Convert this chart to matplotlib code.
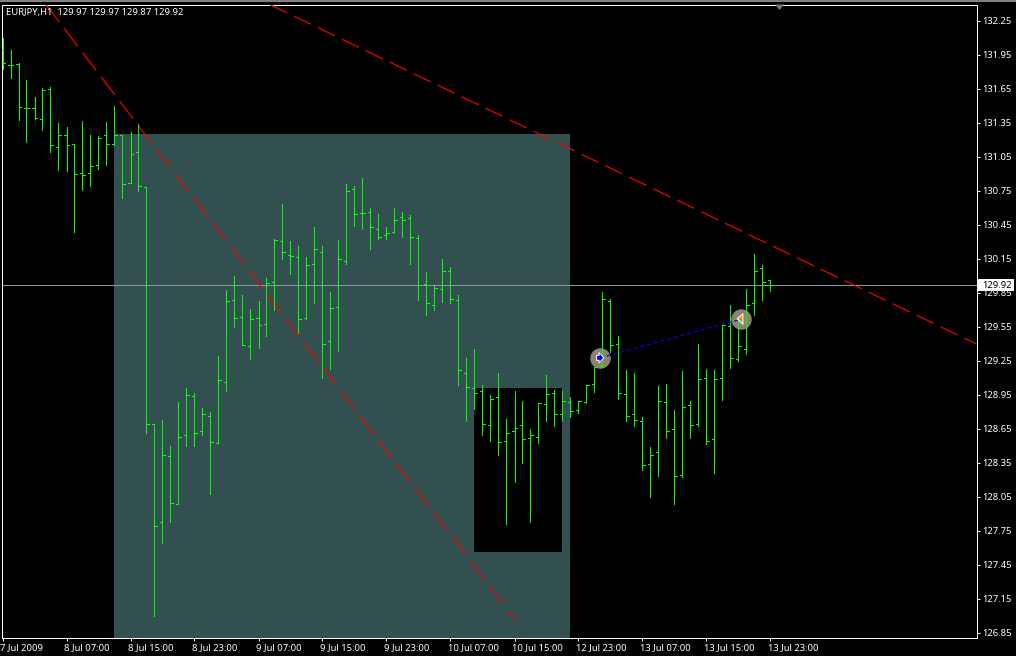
import matplotlib
matplotlib.use("Agg")
import matplotlib.pyplot as plt
from matplotlib.patches import Rectangle, Polygon
from matplotlib.transforms import ScaledTranslation

opens = [132.00,131.86,131.87,131.48,131.48,131.39,131.65,131.14,131.25,131.17,
         130.91,130.91,130.98,131.25,131.17,131.25,130.82,131.10,130.79,128.70,
         127.83,128.41,127.99,128.60,128.94,128.63,128.77,128.53,129.07,129.79,
         129.64,129.38,129.63,129.58,129.95,130.31,130.19,130.17,129.63,130.11,
         130.21,129.43,129.73,130.13,130.77,130.56,130.57,130.42,130.36,130.39,
         130.52,130.51,130.34,129.93,129.75,129.89,130.05,129.79,129.15,129.01,
         128.99,128.69,128.93,128.55,128.63,128.69,128.57,128.58,128.87,128.97,
         128.78,128.89,128.82,128.89,129.05,129.21,129.78,129.40,128.96,128.78,
         128.72,128.34,128.45,128.89,128.65,128.25,128.86,128.70,129.10,128.56,
         129.10,129.56,129.27,129.36,129.76,130.07,129.97]
highs = [132.10,132.00,131.88,131.73,131.58,131.66,131.67,131.35,131.32,131.17,
         131.37,131.25,131.24,131.36,131.50,131.25,131.27,131.34,130.79,128.70,
         128.73,128.50,128.89,129.01,128.97,128.84,128.80,129.30,129.88,130.00,
         129.83,129.71,129.78,129.98,130.33,130.64,130.31,130.27,130.17,130.43,
         130.27,129.86,130.32,130.81,130.80,130.87,130.60,130.55,130.43,130.60,
         130.57,130.54,130.36,130.04,129.91,130.15,130.08,129.83,129.28,129.36,
         129.04,128.95,129.15,128.74,128.99,128.90,128.65,128.88,129.13,129.00,
         128.99,128.93,128.90,129.04,129.20,129.86,129.80,129.47,129.17,129.15,
         128.76,128.49,129.03,129.05,128.82,129.16,128.90,129.40,129.18,129.17,
         129.57,129.75,129.61,129.89,130.20,130.10,129.97]
lows = [131.83,131.75,131.38,131.18,131.39,131.29,131.10,130.94,130.93,130.39,
        130.76,130.80,130.95,130.98,131.16,130.69,130.82,130.75,128.62,127.00,
        127.65,127.83,127.99,128.50,128.50,128.60,128.08,128.53,128.99,129.55,
        129.39,129.27,129.37,129.47,129.70,130.15,130.02,129.50,129.62,129.76,
        129.10,129.18,129.34,130.11,130.44,130.42,130.24,130.33,130.33,130.38,
        130.35,130.11,129.79,129.66,129.70,129.77,129.76,129.04,128.72,128.83,
        128.60,128.55,128.42,127.81,128.18,128.35,127.83,128.53,128.72,128.68,
        128.72,128.76,128.79,128.88,128.98,129.20,129.33,128.92,128.72,128.68,
        128.29,128.05,128.24,128.57,127.99,128.23,128.57,128.68,128.52,128.26,
        128.91,129.19,129.25,129.31,129.66,129.79,129.87]
closes = [131.88,131.86,131.49,131.48,131.40,131.64,131.16,131.25,131.16,130.90,
          130.89,130.97,131.22,131.17,131.25,130.81,131.08,130.80,128.70,127.80,
          128.42,128.00,128.58,128.95,128.62,128.78,128.54,129.08,129.78,129.63,
          129.39,129.62,129.57,129.94,130.32,130.21,130.18,129.62,130.10,130.24,
          129.40,129.72,130.15,130.75,130.55,130.56,130.43,130.35,130.38,130.50,
          130.50,130.35,129.92,129.76,129.90,130.05,129.80,129.17,129.02,128.97,
          128.70,128.92,128.54,128.62,128.66,128.56,128.60,128.88,128.96,128.78,
          128.90,128.81,128.90,129.04,129.20,129.80,129.39,128.97,128.77,128.73,
          128.33,128.42,128.90,128.63,128.24,128.85,128.69,129.09,128.55,129.09,
          129.57,129.28,129.38,129.75,130.05,129.95,129.92]

price_ticks = [132.25,131.95,131.65,131.35,131.05,130.75,130.45,130.15,129.85,129.55,
               129.25,128.95,128.65,128.35,128.05,127.75,127.45,127.15,126.85]
time_tick_bars = [0,8,16,24,32,40,48,56,64,72,80,88,96]
time_labels = ["7 Jul 2009","8 Jul 07:00","8 Jul 15:00","8 Jul 23:00","9 Jul 07:00",
               "9 Jul 15:00","9 Jul 23:00","10 Jul 07:00","10 Jul 15:00","12 Jul 23:00",
               "13 Jul 07:00","13 Jul 15:00","13 Jul 23:00"]
title_text = "EURJPY,H1  129.97 129.97 129.87 129.92"
last_price = 129.92
zone_bars = [14, 71]
zone_top = 131.255
inner_bars = [59, 70]
inner_prices = [127.57, 129.01]
trend1_bars = [5.4, 64.06]
trend1_prices = [132.40, 126.97]
trend2_bars = [33.44, 121.8]
trend2_prices = [132.396, 129.40]
trade_bars = [74.7, 92.3]
trade_prices = [129.28, 129.62]

W, H, DPI = 1016, 656, 100
PX = 72 / DPI
L, R, T, B = 1.7, 976.7, 4.7, 638.3
P_PER_PX = 1 / 113.33
P0 = 132.437
xlim = ((L - 2.5) / 8, (R - 2.5) / 8)
ylim = (P0 - B * P_PER_PX, P0 - T * P_PER_PX)
HALF = 0.0625
FS = 6.8

plt.rcParams['font.family'] = ['Noto Sans', 'DejaVu Sans']
fig = plt.figure(figsize=(W / DPI, H / DPI), dpi=DPI, facecolor='black')
ax = fig.add_axes([L / W, 1 - B / H, (R - L) / W, (B - T) / H], facecolor='black')
ax.set_xlim(*xlim)
ax.set_ylim(*ylim)

ax.add_patch(Rectangle((zone_bars[0] - HALF, ylim[0]), zone_bars[1] - zone_bars[0],
                       zone_top - ylim[0], fc='#325050', ec='none', zorder=1))
ax.add_patch(Rectangle((inner_bars[0] - HALF, inner_prices[0]), inner_bars[1] - inner_bars[0],
                       inner_prices[1] - inner_prices[0], fc='black', ec='none', zorder=1.5))

ax.axhline(last_price, color='#8A9A9F', lw=1 * PX, zorder=2)

ax.plot(trend1_bars, trend1_prices, color='#FF0000', lw=1.15 * PX, zorder=3,
        dashes=(19.5, 7), dash_capstyle='butt')
ax.plot(trend2_bars, trend2_prices, color='#FF0000', lw=1.15 * PX, zorder=3,
        dashes=(16.5, 6.6), dash_capstyle='butt')

ax.scatter(trade_bars, trade_prices, s=(20.5 * PX) ** 2, c='#8C8272', linewidths=0, zorder=3.5)

bars = list(range(len(opens)))
GREEN = '#00FF00'
ax.vlines(bars, lows, highs, color=GREEN, lw=1 * PX, zorder=4, antialiased=False)
ax.hlines(opens, [i - 0.31 for i in bars], bars, color=GREEN, lw=1 * PX, zorder=4, antialiased=False)
ax.hlines(closes, bars, [i + 0.31 for i in bars], color=GREEN, lw=1 * PX, zorder=4, antialiased=False)

ax.plot(trade_bars, trade_prices, color='#0000FF', lw=1.2 * PX, dashes=(3.2, 2.6), zorder=5,
        dash_capstyle='butt')
dx, dy = 1 / 8, P_PER_PX
def glyph(i, pts, colour, z):
    ax.add_patch(Polygon([(trade_bars[i] + a * dx, trade_prices[i] + b * dy) for a, b in pts],
                         fc=colour, ec='none', zorder=z))
glyph(0, [(-4, 3), (-1.5, 3), (-1.5, 6), (4.5, 0), (-1.5, -6), (-1.5, -3), (-4, -3)], 'white', 7)
glyph(0, [(-3, 2), (-0.5, 2), (-0.5, 4), (3, 0), (-0.5, -4), (-0.5, -2), (-3, -2)], '#0000FF', 8)
glyph(1, [(2.5, 6.5), (2.5, -6), (-4.5, 0.5)], 'white', 7)
glyph(1, [(1.5, 4.5), (1.5, -4), (-2.5, 0.5)], '#D98E1F', 8)

for side in ('top', 'left', 'bottom', 'right'):
    ax.spines[side].set_color('white')
    ax.spines[side].set_linewidth(1 * PX)
ax.yaxis.tick_right()
ax.set_yticks(price_ticks)
ax.set_yticklabels([f"{v:.2f}" for v in price_ticks])
ax.set_xticks(time_tick_bars)
ax.set_xticklabels(time_labels, ha='left')
ax.tick_params(axis='y', colors='white', length=3 * PX, width=1 * PX, pad=1.6, labelsize=FS)
ax.tick_params(axis='x', colors='white', length=3 * PX, width=1 * PX, pad=1.5, labelsize=FS)
shift = ScaledTranslation(-2 / DPI, 0, fig.dpi_scale_trans)
for lab in ax.get_xticklabels():
    lab.set_transform(lab.get_transform() + shift)
up = ScaledTranslation(0, 0.5 / DPI, fig.dpi_scale_trans)
for lab in ax.get_yticklabels():
    lab.set_transform(lab.get_transform() + up)

fig.add_artist(Rectangle((977.5 / W, 1 - 291 / H), 36.5 / W, 12 / H, transform=fig.transFigure,
                         fc='white', ec='none', zorder=9))
fig.text(982.5 / W, 1 - 285 / H, f"{last_price:.2f}", va='center', ha='left', fontsize=FS,
         color='black', zorder=10)

fig.text(5.5 / W, 1 - 12.5 / H, title_text, color='white', fontsize=FS, va='center', ha='left',
         zorder=10)

fig.add_artist(Rectangle((0, 1 - 2 / H), 1, 2 / H, transform=fig.transFigure, fc='#808080', ec='none'))
fig.add_artist(Polygon([(775 / W, 1 - 4.5 / H), (784 / W, 1 - 4.5 / H), (779.5 / W, 1 - 10 / H)],
                       transform=fig.transFigure, fc='#6E7F8C', ec='none'))

fig.savefig('out.png', dpi=DPI, facecolor='black')
